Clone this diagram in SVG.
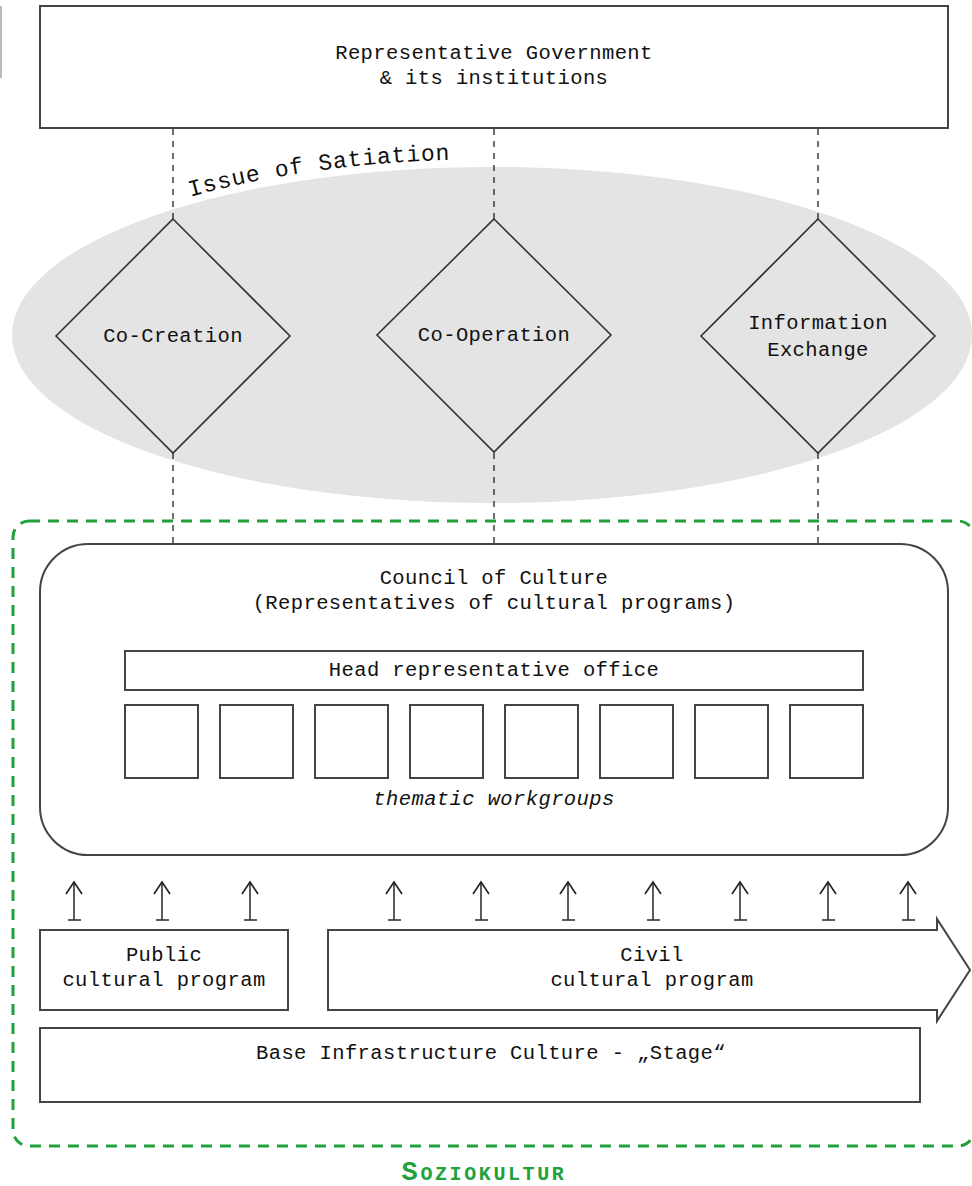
<svg xmlns="http://www.w3.org/2000/svg" width="972" height="1186" viewBox="0 0 972 1186">
<defs>
<style>
.box{fill:#fff;stroke:#444;stroke-width:2}
.dia{fill:none;stroke:#333;stroke-width:1.6}
.t{font-family:"Liberation Mono","Courier New",monospace;font-size:20.5px;letter-spacing:0.4px;fill:#111;text-anchor:middle}
.conn{stroke:#111;stroke-width:1.2;stroke-dasharray:6 6;fill:none}
.arr{stroke:#333;stroke-width:1.6;fill:none}
</style>
<marker id="open" markerWidth="20" markerHeight="20" refX="13" refY="9" orient="auto" markerUnits="userSpaceOnUse" viewBox="0 0 20 20">
<path d="M1,1 L13,9 L1,17" fill="none" stroke="#222" stroke-width="1.6"/>
</marker>
<path id="arcp" d="M 4,335 A 488,176 0 0 1 980,335"/>
</defs>
<rect width="972" height="1186" fill="#fff"/>
<rect x="0" y="6" width="2" height="72" fill="#bbb"/>

<g id="ellipse-satiation">
<ellipse cx="492" cy="335" rx="480" ry="168" fill="#e4e4e4"/>
<text class="t" style="font-size:23px;letter-spacing:0.8px;text-anchor:start"><textPath href="#arcp" startOffset="246">Issue of Satiation</textPath></text>
</g>

<g id="soziokultur-border">
<rect x="13" y="521" width="961" height="625" rx="16" fill="none" stroke="#22a03c" stroke-width="3" stroke-dasharray="11 8"/>
<text x="484" y="1180" style="font-family:'Liberation Mono','Courier New',monospace;font-weight:bold;fill:#22a03c;text-anchor:middle;font-size:20px;letter-spacing:2.6px"><tspan style="font-size:27px">S</tspan>OZIOKULTUR</text>
</g>

<g id="connectors">
<line class="conn" x1="173" y1="129" x2="173" y2="219"/>
<line class="conn" x1="494" y1="129" x2="494" y2="219"/>
<line class="conn" x1="818" y1="129" x2="818" y2="219"/>
<line class="conn" x1="173" y1="453" x2="173" y2="544"/>
<line class="conn" x1="494" y1="453" x2="494" y2="544"/>
<line class="conn" x1="818" y1="453" x2="818" y2="544"/>
<g class="arr" marker-end="url(#open)">
<path d="M74,920 V882"/><path d="M162,920 V882"/><path d="M250,920 V882"/>
<path d="M394,920 V882"/><path d="M481,920 V882"/><path d="M568,920 V882"/>
<path d="M653,920 V882"/><path d="M740,920 V882"/><path d="M828,920 V882"/><path d="M908,920 V882"/>
</g>
<g stroke="#333" stroke-width="1.6">
<line x1="68" y1="920" x2="81" y2="920"/><line x1="156" y1="920" x2="169" y2="920"/><line x1="244" y1="920" x2="257" y2="920"/>
<line x1="388" y1="920" x2="401" y2="920"/><line x1="475" y1="920" x2="488" y2="920"/><line x1="562" y1="920" x2="575" y2="920"/>
<line x1="647" y1="920" x2="660" y2="920"/><line x1="734" y1="920" x2="747" y2="920"/><line x1="822" y1="920" x2="835" y2="920"/><line x1="902" y1="920" x2="915" y2="920"/>
</g>
</g>

<g id="government">
<rect class="box" x="40" y="6" width="908" height="122"/>
<text class="t" x="494" y="59">Representative Government</text>
<text class="t" x="494" y="84">&amp; its institutions</text>
</g>

<g id="co-creation">
<path class="dia" d="M173,219 L290,336 L173,453 L56,336 Z"/>
<text class="t" x="173" y="342">Co-Creation</text>
</g>
<g id="co-operation">
<path class="dia" d="M494,219 L611,335 L494,452 L377,335 Z"/>
<text class="t" x="494" y="341">Co-Operation</text>
</g>
<g id="information-exchange">
<path class="dia" d="M818,219 L935,336 L818,453 L701,336 Z"/>
<text class="t" x="818" y="329">Information</text>
<text class="t" x="818" y="356">Exchange</text>
</g>

<g id="council">
<rect class="box" x="40" y="544" width="908" height="311" rx="48"/>
<text class="t" x="494" y="584">Council of Culture</text>
<text class="t" x="494" y="609">(Representatives of cultural programs)</text>
</g>
<g id="head-office">
<rect class="box" x="125" y="651" width="738" height="39"/>
<text class="t" x="494" y="676">Head representative office</text>
</g>
<g id="workgroups">
<rect class="box" x="125" y="705" width="73" height="73"/>
<rect class="box" x="220" y="705" width="73" height="73"/>
<rect class="box" x="315" y="705" width="73" height="73"/>
<rect class="box" x="410" y="705" width="73" height="73"/>
<rect class="box" x="505" y="705" width="73" height="73"/>
<rect class="box" x="600" y="705" width="73" height="73"/>
<rect class="box" x="695" y="705" width="73" height="73"/>
<rect class="box" x="790" y="705" width="73" height="73"/>
<text class="t" x="494" y="805" style="font-style:italic">thematic workgroups</text>
</g>

<g id="public-program">
<rect class="box" x="40" y="930" width="248" height="80"/>
<text class="t" x="164" y="961">Public</text>
<text class="t" x="164" y="986">cultural program</text>
</g>
<g id="civil-program">
<path class="box" d="M328,930 H937 V919 L970,970 L937,1021 V1010 H328 Z"/>
<text class="t" x="652" y="961">Civil</text>
<text class="t" x="652" y="986">cultural program</text>
</g>
<g id="base-infrastructure">
<rect class="box" x="40" y="1028" width="880" height="74"/>
<text class="t" x="491" y="1059">Base Infrastructure Culture - „Stage“</text>
</g>
</svg>
